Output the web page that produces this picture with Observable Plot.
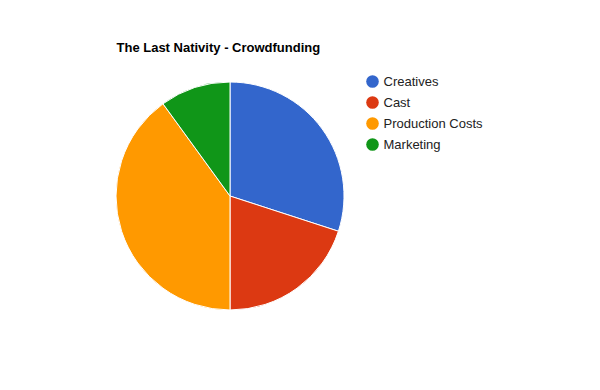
<!DOCTYPE html>
<html>
<head>
<meta charset="utf-8">
<script src="https://cdn.jsdelivr.net/npm/d3@7"></script>
<script src="https://cdn.jsdelivr.net/npm/@observablehq/plot@0.6"></script>
<style>
  html, body { margin: 0; padding: 0; background: #fff; }
  svg { display: block; }
</style>
</head>
<body>
<div id="chart"></div>
<script>
const title = "The Last Nativity - Crowdfunding";
const categories = ["Creatives", "Cast", "Production Costs", "Marketing"];
const values = [30, 20, 40, 10];
const colors = ["#3366cc", "#dc3912", "#ff9900", "#109618"];

const data = categories.map((c, i) => ({category: c, value: values[i], order: i}));

const W = 600, H = 390;
const cx = 230, cy = 196, R = 114;

const pie = d3.pie().sort(null).value(d => d.value)(data);

function pieMark(index, scales, vals, dims, context) {
  const g = d3.create("svg:g");
  const arc = d3.arc().innerRadius(0).outerRadius(R);
  const px = scales.x(cx), py = scales.y(cy);
  g.selectAll("path").data(pie).join("path")
    .attr("transform", `translate(${px},${py})`)
    .attr("d", arc)
    .attr("fill", d => scales.color(d.data.category))
    .attr("stroke", "#fff")
    .attr("stroke-width", 1);
  return g.node();
}

const legendX = 372, legendY0 = 81, legendStep = 21;
const legend = data.map((d, i) => ({category: d.category, y: legendY0 + i * legendStep}));

const chart = Plot.plot({
  width: W,
  height: H,
  margin: 0,
  x: {domain: [0, W], range: [0, W], axis: null},
  y: {domain: [0, H], range: [0, H], axis: null},
  color: {domain: categories, range: colors},
  style: {fontFamily: "Arial, 'Liberation Sans', sans-serif", background: "#fff"},
  marks: [
    pieMark,
    Plot.dot(legend, {x: legendX, y: "y", r: 6.3, fill: "category", stroke: null}),
    Plot.text(legend, {x: legendX + 11, y: "y", text: "category", textAnchor: "start", fontSize: 13, fill: "#222", dy: 0}),
    Plot.text([title], {x: 116, y: 47, text: d => d, textAnchor: "start", fontSize: 13, fontWeight: "bold", fill: "#000"})
  ]
});
document.getElementById("chart").appendChild(chart);
</script>
</body>
</html>
